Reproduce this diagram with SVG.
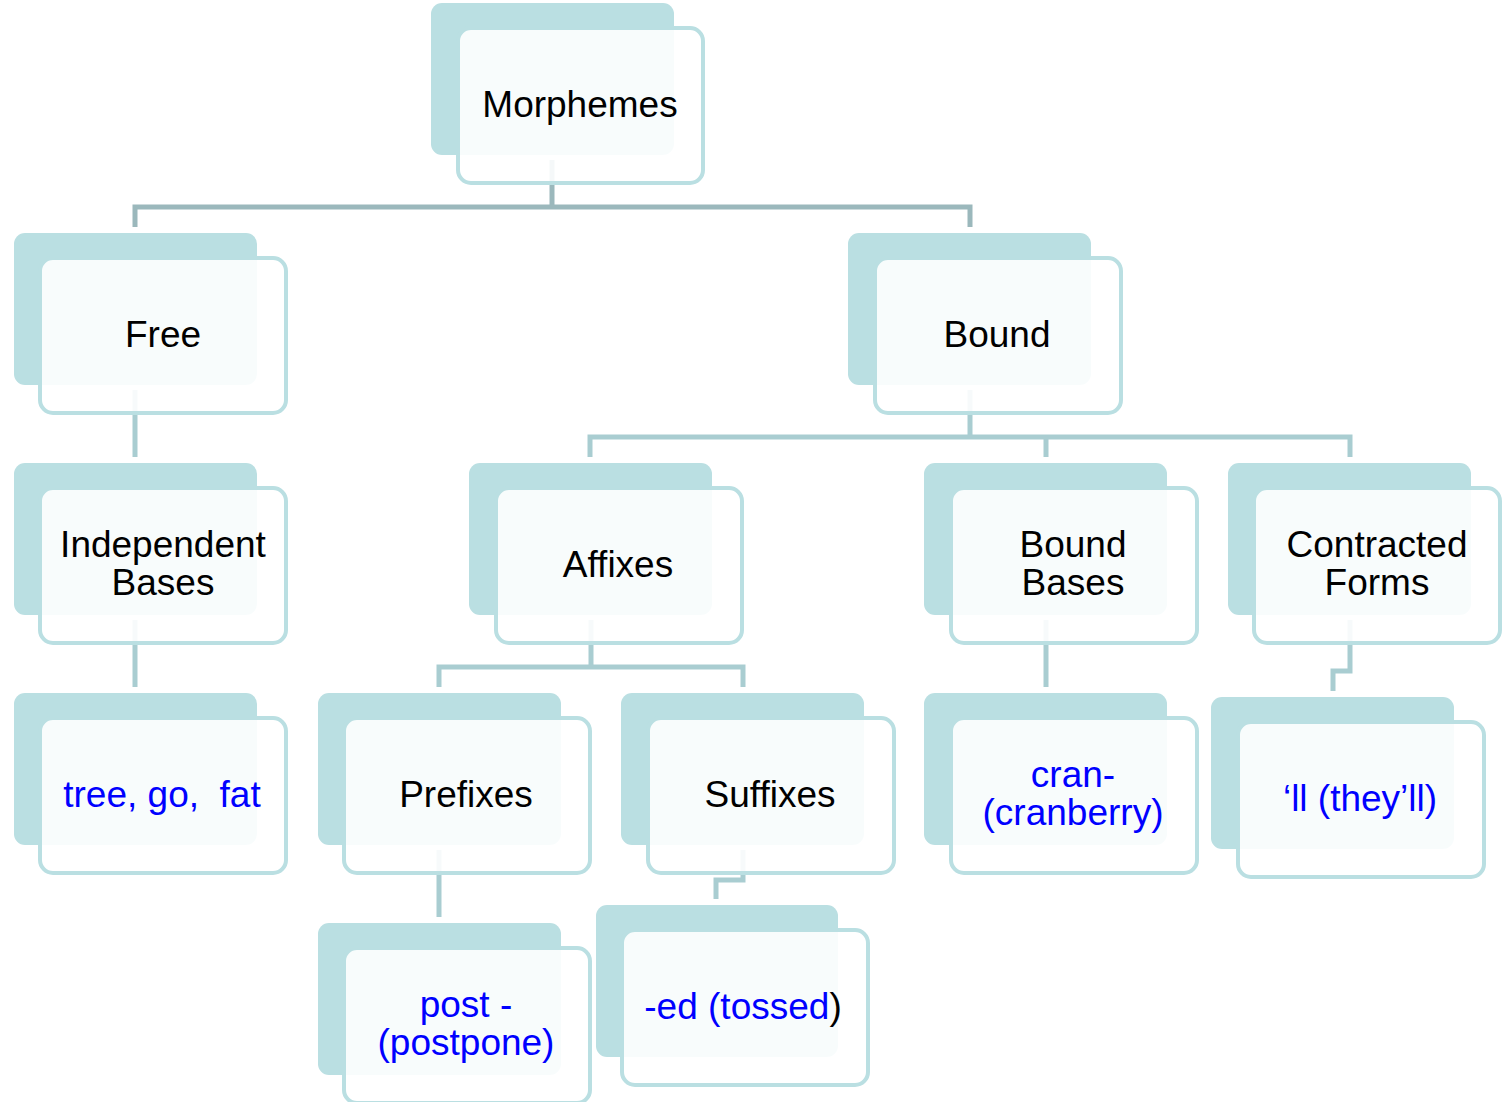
<svg xmlns="http://www.w3.org/2000/svg" width="1507" height="1102" viewBox="0 0 1507 1102">
<style>
.back{fill:#badfe2}
.front{fill:#ffffff;fill-opacity:0.9;stroke:#badfe2;stroke-width:4}
.c1{fill:none;stroke:#9bb8bc;stroke-width:5}
.c2{fill:none;stroke:#a9cdd1;stroke-width:5}
text{font-family:"Liberation Sans",Arial,sans-serif;font-size:37px;text-anchor:middle;fill:#000}
.ex{fill:#0000ff}
</style>
<rect width="1507" height="1102" fill="#ffffff"/>
<g id="connectors">
<path class="c1" d="M552,160 V207 M135,227 V207 H970 V227"/>
<path class="c2" d="M135,390 V457"/>
<path class="c2" d="M970,390 V437 M590,457 V437 H1350 V457 M1046,437 V457"/>
<path class="c2" d="M135,620 V687"/>
<path class="c2" d="M591,620 V667 M439,687 V667 H743 V687"/>
<path class="c2" d="M1046,620 V687"/>
<path class="c2" d="M1350,620 V671 H1333 V691"/>
<path class="c2" d="M439,850 V917"/>
<path class="c2" d="M743,850 V880 H716 V899"/>
</g>
<g id="morphemes">
<rect class="back" x="431" y="3" width="243" height="152" rx="11"/>
<rect class="front" x="458" y="28" width="245" height="155" rx="13"/>
<text x="580" y="117">Morphemes</text>
</g>
<g id="free">
<rect class="back" x="14" y="233" width="243" height="152" rx="11"/>
<rect class="front" x="40" y="258" width="246" height="155" rx="13"/>
<text x="163" y="347">Free</text>
</g>
<g id="bound">
<rect class="back" x="848" y="233" width="243" height="152" rx="11"/>
<rect class="front" x="875" y="258" width="246" height="155" rx="13"/>
<text x="997" y="347">Bound</text>
</g>
<g id="independent-bases">
<rect class="back" x="14" y="463" width="243" height="152" rx="11"/>
<rect class="front" x="40" y="488" width="246" height="155" rx="13"/>
<text x="163" y="557">Independent</text>
<text x="163" y="595">Bases</text>
</g>
<g id="affixes">
<rect class="back" x="469" y="463" width="243" height="152" rx="11"/>
<rect class="front" x="496" y="488" width="246" height="155" rx="13"/>
<text x="618" y="577">Affixes</text>
</g>
<g id="bound-bases">
<rect class="back" x="924" y="463" width="243" height="152" rx="11"/>
<rect class="front" x="951" y="488" width="246" height="155" rx="13"/>
<text x="1073" y="557">Bound</text>
<text x="1073" y="595">Bases</text>
</g>
<g id="contracted-forms">
<rect class="back" x="1228" y="463" width="243" height="152" rx="11"/>
<rect class="front" x="1254" y="488" width="246" height="155" rx="13"/>
<text x="1377" y="557">Contracted</text>
<text x="1377" y="595">Forms</text>
</g>
<g id="tree-go-fat">
<rect class="back" x="14" y="693" width="243" height="152" rx="11"/>
<rect class="front" x="40" y="718" width="246" height="155" rx="13"/>
<text class="ex" x="162" y="807" xml:space="preserve">tree, go,  fat</text>
</g>
<g id="prefixes">
<rect class="back" x="318" y="693" width="243" height="152" rx="11"/>
<rect class="front" x="344" y="718" width="246" height="155" rx="13"/>
<text x="466" y="807">Prefixes</text>
</g>
<g id="suffixes">
<rect class="back" x="621" y="693" width="243" height="152" rx="11"/>
<rect class="front" x="648" y="718" width="246" height="155" rx="13"/>
<text x="770" y="807">Suffixes</text>
</g>
<g id="cran">
<rect class="back" x="924" y="693" width="243" height="152" rx="11"/>
<rect class="front" x="951" y="718" width="246" height="155" rx="13"/>
<text class="ex" x="1073" y="787">cran-</text>
<text class="ex" x="1073" y="825">(cranberry)</text>
</g>
<g id="ll-theyll">
<rect class="back" x="1211" y="697" width="243" height="152" rx="11"/>
<rect class="front" x="1238" y="722" width="246" height="155" rx="13"/>
<text class="ex" x="1360" y="811">‘ll (they’ll)</text>
</g>
<g id="post-postpone">
<rect class="back" x="318" y="923" width="243" height="152" rx="11"/>
<rect class="front" x="344" y="948" width="246" height="155" rx="13"/>
<text class="ex" x="466" y="1017">post -</text>
<text class="ex" x="466" y="1055">(postpone)</text>
</g>
<g id="ed-tossed">
<rect class="back" x="596" y="905" width="242" height="152" rx="11"/>
<rect class="front" x="622" y="930" width="246" height="155" rx="13"/>
<text x="743" y="1019"><tspan class="ex">-ed (tossed</tspan>)</text>
</g>
</svg>
